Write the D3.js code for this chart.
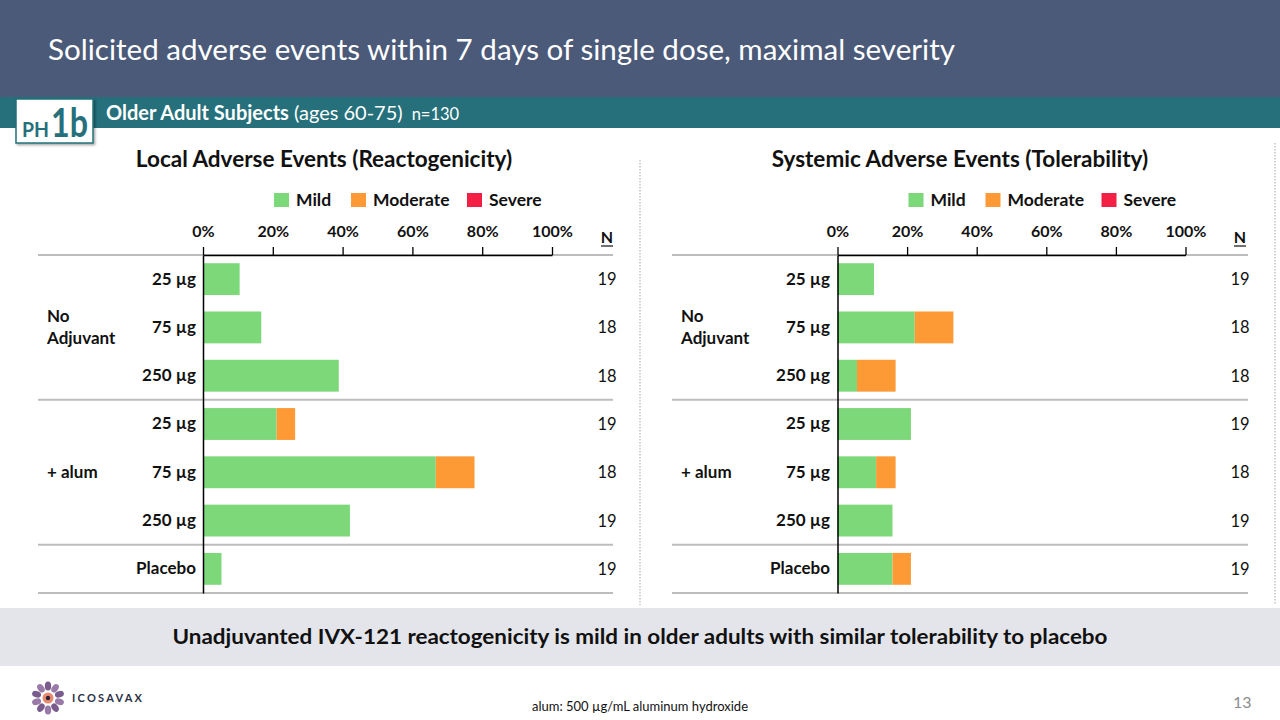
<!DOCTYPE html>
<html><head><meta charset="utf-8">
<script src="https://cdn.jsdelivr.net/npm/d3@7"></script>
<style>
body{margin:0;background:#fff}
svg{display:block}
text{font-family:Lato,"Open Sans",sans-serif}
</style>
</head><body>
<svg id="c" width="1280" height="720"></svg>
<script>
// ---------------- data ----------------
const categories = ["25 µg","75 µg","250 µg","25 µg","75 µg","250 µg","Placebo"];
const groupNames = [["No","Adjuvant"],["+ alum"]];
const groupMembers = [[0,1,2],[3,4,5]];
const nValues = [19,18,18,19,18,19,19];
const severities = ["Mild","Moderate","Severe"];
const severityColors = ["#7dd87a","#fd9a36","#f41f45"];
const tickValues = [0,20,40,60,80,100];
// percent of subjects by maximal severity
const localMild      = [10.5,16.7,38.9,21.1,66.7,42.1,5.3];
const localModerate  = [0,0,0,5.3,11.1,0,0];
const localSevere    = [0,0,0,0,0,0,0];
const systemicMild     = [10.5,22.2,5.6,21.1,11.1,15.8,15.8];
const systemicModerate = [0,11.1,11.1,0,5.6,0,5.3];
const systemicSevere   = [0,0,0,0,0,0,0];
const panelTitles = ["Local Adverse Events (Reactogenicity)","Systemic Adverse Events (Tolerability)"];

// ---------------- page ----------------
const svg = d3.select("#c");
const defs = svg.append("defs");
const f = defs.append("filter").attr("id","sh").attr("x","-20%").attr("y","-20%").attr("width","150%").attr("height","150%");
f.append("feDropShadow").attr("dx",1.5).attr("dy",1.5).attr("stdDeviation",1.2).attr("flood-color","#000").attr("flood-opacity",0.35);

svg.append("rect").attr("x",0).attr("y",0).attr("width",1280).attr("height",97).attr("fill","#4b5a78");
svg.append("text").attr("x",48).attr("y",60).attr("fill","#fff").attr("font-size",28)
  .attr("textLength",907).attr("lengthAdjust","spacingAndGlyphs")
  .text("Solicited adverse events within 7 days of single dose, maximal severity");
svg.append("rect").attr("x",0).attr("y",97).attr("width",1280).attr("height",31).attr("fill","#25707a");
const sub = svg.append("text").attr("x",106).attr("y",120).attr("fill","#fff").attr("font-size",20);
sub.append("tspan").attr("font-weight","bold").text("Older Adult Subjects");
sub.append("tspan").text(" (ages 60-75)");
sub.append("tspan").attr("font-size",16.5).attr("dx",9).text("n=130");

svg.append("rect").attr("x",16).attr("y",99).attr("width",77).attr("height",44)
  .attr("fill","#fff").attr("stroke","#25707a").attr("stroke-width",1.5).attr("filter","url(#sh)");
svg.append("text").attr("x",22).attr("y",137).attr("fill","#25707a").attr("font-weight","bold")
  .attr("font-size",21).attr("textLength",27).attr("lengthAdjust","spacingAndGlyphs").text("PH");
svg.append("text").attr("x",51).attr("y",137).attr("fill","#25707a").attr("font-weight","bold")
  .attr("font-size",40).attr("textLength",37).attr("lengthAdjust","spacingAndGlyphs").text("1b");

// dotted separators
[[640,160,605],[1275,143,605]].forEach(([x,a,b])=>{
  svg.append("line").attr("x1",x).attr("x2",x).attr("y1",a).attr("y2",b)
    .attr("stroke","#c4c4c4").attr("stroke-width",1.5).attr("stroke-dasharray","1.5,1.5");
});

// ---------------- panels ----------------
const panels = [
  {title:panelTitles[0], series:[localMild,localModerate,localSevere], ax:[203,552], line:[38,613], labelX:196, groupX:47, nX:607, titleX:324},
  {title:panelTitles[1], series:[systemicMild,systemicModerate,systemicSevere], ax:[837.5,1185.5], line:[672,1248], labelX:830, groupX:681, nX:1240, titleX:960}
];
const yTop = 255, yBot = 593;
const y = d3.scaleBand().domain(d3.range(categories.length)).range([yTop,yBot]).paddingInner(0.34).paddingOuter(0.17);
const step = y.step();

panels.forEach(p=>{
  const g = svg.append("g");
  const x = d3.scaleLinear().domain([0,100]).range(p.ax);
  g.append("text").attr("x",p.titleX).attr("y",167).attr("text-anchor","middle")
    .attr("font-weight","bold").attr("font-size",22.5).attr("fill","#111").text(p.title);

  // legend
  const legOff = [71,148,264];
  severities.forEach((s,i)=>{
    const lx = p.ax[0] + legOff[i];
    g.append("rect").attr("x",lx).attr("y",193).attr("width",15).attr("height",14).attr("fill",severityColors[i]);
    g.append("text").attr("x",lx+22).attr("y",206).attr("font-weight","bold").attr("font-size",17.5).attr("fill","#111").text(s);
  });

  // gray separator lines
  const seps = [yTop, yTop + 3*step, yTop + 6*step, yBot];
  seps.forEach(yy=>{
    g.append("line").attr("x1",p.line[0]).attr("x2",p.line[1]).attr("y1",yy).attr("y2",yy)
      .attr("stroke","#bdbdbd").attr("stroke-width",2);
  });

  // stacked bars
  const rows = categories.map((c,i)=>({i, Mild:p.series[0][i], Moderate:p.series[1][i], Severe:p.series[2][i]}));
  const stack = d3.stack().keys(severities)(rows);
  stack.forEach((layer,k)=>{
    g.append("g").selectAll("rect").data(layer).join("rect")
      .attr("x",d=>x(d[0])).attr("width",d=>Math.max(0,x(d[1])-x(d[0])))
      .attr("y",d=>y(d.data.i)).attr("height",y.bandwidth()).attr("fill",severityColors[k]);
  });

  // top axis
  const axT = g.append("g").attr("transform",`translate(0,${yTop})`)
    .call(d3.axisTop(x).tickValues(tickValues).tickSize(8).tickSizeOuter(0).tickPadding(10).tickFormat(d=>d+"%"));
  axT.select(".domain").attr("stroke","#000").attr("stroke-width",1.5);
  axT.selectAll(".tick line").attr("stroke","#000").attr("stroke-width",1.3);
  axT.selectAll(".tick text").attr("font-family","Lato").attr("font-weight","bold").attr("font-size",16).attr("fill","#111");

  // left axis with category labels
  const axL = g.append("g").attr("transform",`translate(${p.ax[0]},0)`)
    .call(d3.axisLeft(y).tickSize(0).tickSizeOuter(0).tickPadding(p.ax[0]-p.labelX).tickFormat(i=>categories[i]));
  axL.select(".domain").attr("stroke","#000").attr("stroke-width",1.5);
  axL.selectAll(".tick text").attr("font-family","Lato").attr("font-weight","bold").attr("font-size",17).attr("fill","#111");

  // group labels
  groupNames.forEach((lines,gi)=>{
    const mem = groupMembers[gi];
    const cy = d3.mean(mem, i=>y(i)+y.bandwidth()/2);
    const t = g.append("text").attr("font-weight","bold").attr("font-size",17).attr("fill","#111");
    const y0 = cy + 6 - (lines.length-1)*11;
    lines.forEach((ln,li)=>{
      t.append("tspan").attr("x",p.groupX).attr("y",y0+li*22).text(ln);
    });
  });

  // N column
  g.append("text").attr("x",p.nX).attr("y",243).attr("text-anchor","middle")
    .attr("font-weight","bold").attr("font-size",16).attr("fill","#111").text("N");
  g.append("line").attr("x1",p.nX-6).attr("x2",p.nX+6).attr("y1",246).attr("y2",246).attr("stroke","#111").attr("stroke-width",1.2);
  g.append("g").selectAll("text").data(nValues).join("text")
    .attr("x",p.nX).attr("y",(d,i)=>y(i)+y.bandwidth()/2+6).attr("text-anchor","middle")
    .attr("font-size",16.5).attr("fill","#111").text(d=>d);
});

// ---------------- bottom ----------------
svg.append("rect").attr("x",0).attr("y",608).attr("width",1280).attr("height",58).attr("fill","#e4e5ea");
svg.append("text").attr("x",640).attr("y",644).attr("text-anchor","middle").attr("font-weight","bold")
  .attr("font-size",20).attr("fill","#111").attr("textLength",935).attr("lengthAdjust","spacingAndGlyphs")
  .text("Unadjuvanted IVX-121 reactogenicity is mild in older adults with similar tolerability to placebo");
svg.append("text").attr("x",532).attr("y",711).attr("font-size",13).attr("fill","#111")
  .attr("textLength",216).attr("lengthAdjust","spacingAndGlyphs").text("alum: 500 µg/mL aluminum hydroxide");
svg.append("text").attr("x",1233).attr("y",708).attr("font-size",16).attr("fill","#8c8c8c").text("13");

// logo
const lg = svg.append("g").attr("transform","translate(48,698)");
d3.range(10).forEach(k=>{
  const a = k*36;
  lg.append("ellipse").attr("cx",0).attr("cy",-12).attr("rx",3.2).attr("ry",4.6)
    .attr("transform",`rotate(${a})`).attr("fill",k%2? "#9a7aa8":"#7a5d8c");
});
lg.append("circle").attr("r",5.5).attr("fill","#e98a6f");
lg.append("circle").attr("r",2.2).attr("fill","#2a1f3d");
svg.append("text").attr("x",72).attr("y",702).attr("font-size",11).attr("font-weight","bold").attr("fill","#2a2f45")
  .attr("textLength",70).attr("lengthAdjust","spacing").text("ICOSAVAX");
</script>
</body></html>
